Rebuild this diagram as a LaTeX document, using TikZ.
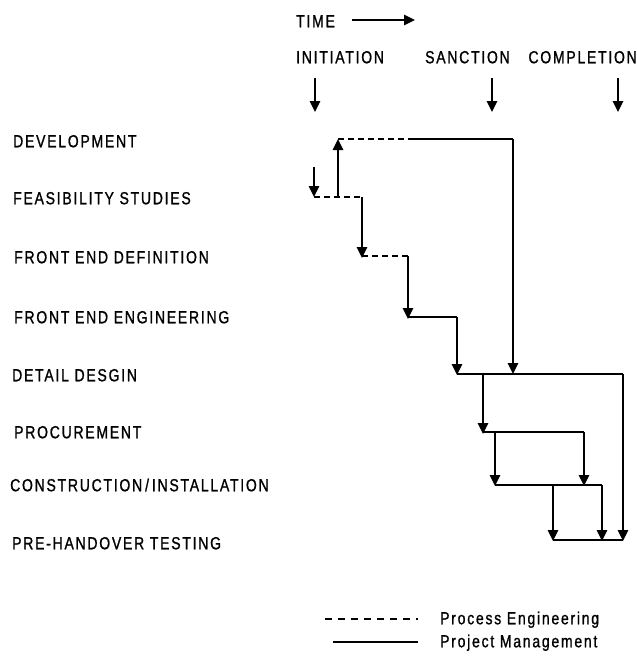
\documentclass[tikz,border=0pt]{standalone}
\usepackage{fontspec}
\setmainfont{Liberation Sans}
\usetikzlibrary{arrows.meta}
\newfontfamily\lblfont[FakeStretch=0.8,LetterSpace=10,FakeBold=1]{Liberation Sans}
\tikzset{
  lbl/.style={anchor=west,inner sep=0pt,text height=12.5pt,text depth=0pt,font=\fontsize{17.5}{17.5}\lblfont},
  pm/.style={line width=1.7pt},
  pe/.style={line width=1.5pt,dash pattern=on 6pt off 4pt},
  arr/.style={pm,-{Triangle[length=11pt,width=10.5pt]}},
}
\begin{document}
\begin{tikzpicture}[x=1pt,y=-1pt]
\useasboundingbox (0,0) rectangle (637,657);
% header
\node[lbl] (time) at (296,21) {TIME};
\coordinate (ts) at (352,20);
\coordinate (te) at (415,20);
\draw[arr] (ts) -- (te);
\node[lbl] (ini) at (296,57) {INITIATION};
\node[lbl] (san) at (425,57) {SANCTION};
\node[lbl,anchor=east] (com) at (637,57) {COMPLETION};
\coordinate (ia) at (315,78); \coordinate (ib) at (315,112);
\coordinate (sa) at (492,78); \coordinate (sb) at (492,112);
\coordinate (ca) at (618,78); \coordinate (cb) at (618,112);
\draw[arr] (ia) -- (ib);
\draw[arr] (sa) -- (sb);
\draw[arr] (ca) -- (cb);
% stage labels
\node[lbl] (dev) at (13,141) {DEVELOPMENT};
\node[lbl] (fea) at (13,198) {FEASIBILITY STUDIES};
\node[lbl] (fed) at (14,257) {FRONT END DEFINITION};
\node[lbl] (fee) at (14,317) {FRONT END ENGINEERING};
\node[lbl] (det) at (12,375) {DETAIL DESGIN};
\node[lbl] (pro) at (14,432) {PROCUREMENT};
\node[lbl] (con) at (10,485) {CONSTRUCTION\,/\,INSTALLATION};
\node[lbl] (pre) at (12,543) {PRE-HANDOVER TESTING};
% coordinates of the network
\coordinate (f0) at (314,167);
\coordinate (f1) at (314,197);
\coordinate (f2) at (338,197);
\coordinate (f3) at (362,197);
\coordinate (d1) at (338,139);
\coordinate (d2) at (408,139);
\coordinate (d3) at (513,139);
\coordinate (dd2) at (513,374);
\coordinate (g1) at (362,256);
\coordinate (g2) at (408,256);
\coordinate (e1) at (408,317);
\coordinate (e2) at (457,317);
\coordinate (dd1) at (457,374);
\coordinate (dd3) at (623,374);
\coordinate (p0) at (483,374);
\coordinate (p1) at (483,432);
\coordinate (p2) at (495,432);
\coordinate (p3) at (584,432);
\coordinate (c1) at (495,485);
\coordinate (c2) at (553,485);
\coordinate (c3) at (584,485);
\coordinate (c4) at (602,485);
\coordinate (t1) at (553,540);
\coordinate (t2) at (602,540);
\coordinate (t3) at (623,540);
% process engineering (dashed)
\draw[pe] (f1) -- (f3);
\draw[pe] (d1) -- (d2);
\draw[pe] (g1) -- (g2);
% project management (solid)
\draw[arr] (f0) -- (f1);
\draw[arr] (f2) -- (d1);
\draw[pm] (d2) -- (d3);
\draw[arr] (d3) -- (dd2);
\draw[arr] (f3) -- ([yshift=-2pt]g1);
\draw[arr] (g2) -- ([yshift=-2pt]e1);
\draw[pm] (e1) -- (e2);
\draw[arr] (e2) -- ([yshift=-1pt]dd1);
\draw[pm] (dd1) -- (dd3);
\draw[arr] (dd3) -- ([yshift=-1pt]t3);
\draw[arr] (p0) -- ([yshift=-2pt]p1);
\draw[pm] (p1) -- (p3);
\draw[arr] (p3) -- ([yshift=-1pt]c3);
\draw[arr] (p2) -- ([yshift=-1pt]c1);
\draw[pm] (c1) -- (c4);
\draw[arr] (c4) -- ([yshift=-1pt]t2);
\draw[arr] (c2) -- ([yshift=-1pt]t1);
\draw[pm] (t1) -- (t3);
% legend
\coordinate (l1a) at (325,619); \coordinate (l1b) at (418,619);
\coordinate (l2a) at (333,642); \coordinate (l2b) at (418,642);
\draw[line width=1.2pt,dash pattern=on 7pt off 6pt] (l1a) -- (l1b);
\draw[pm,line width=1.3pt] (l2a) -- (l2b);
\node[lbl] (lpe) at (440,618) {Process Engineering};
\node[lbl] (lpm) at (440,641) {Project Management};
\end{tikzpicture}
\end{document}
